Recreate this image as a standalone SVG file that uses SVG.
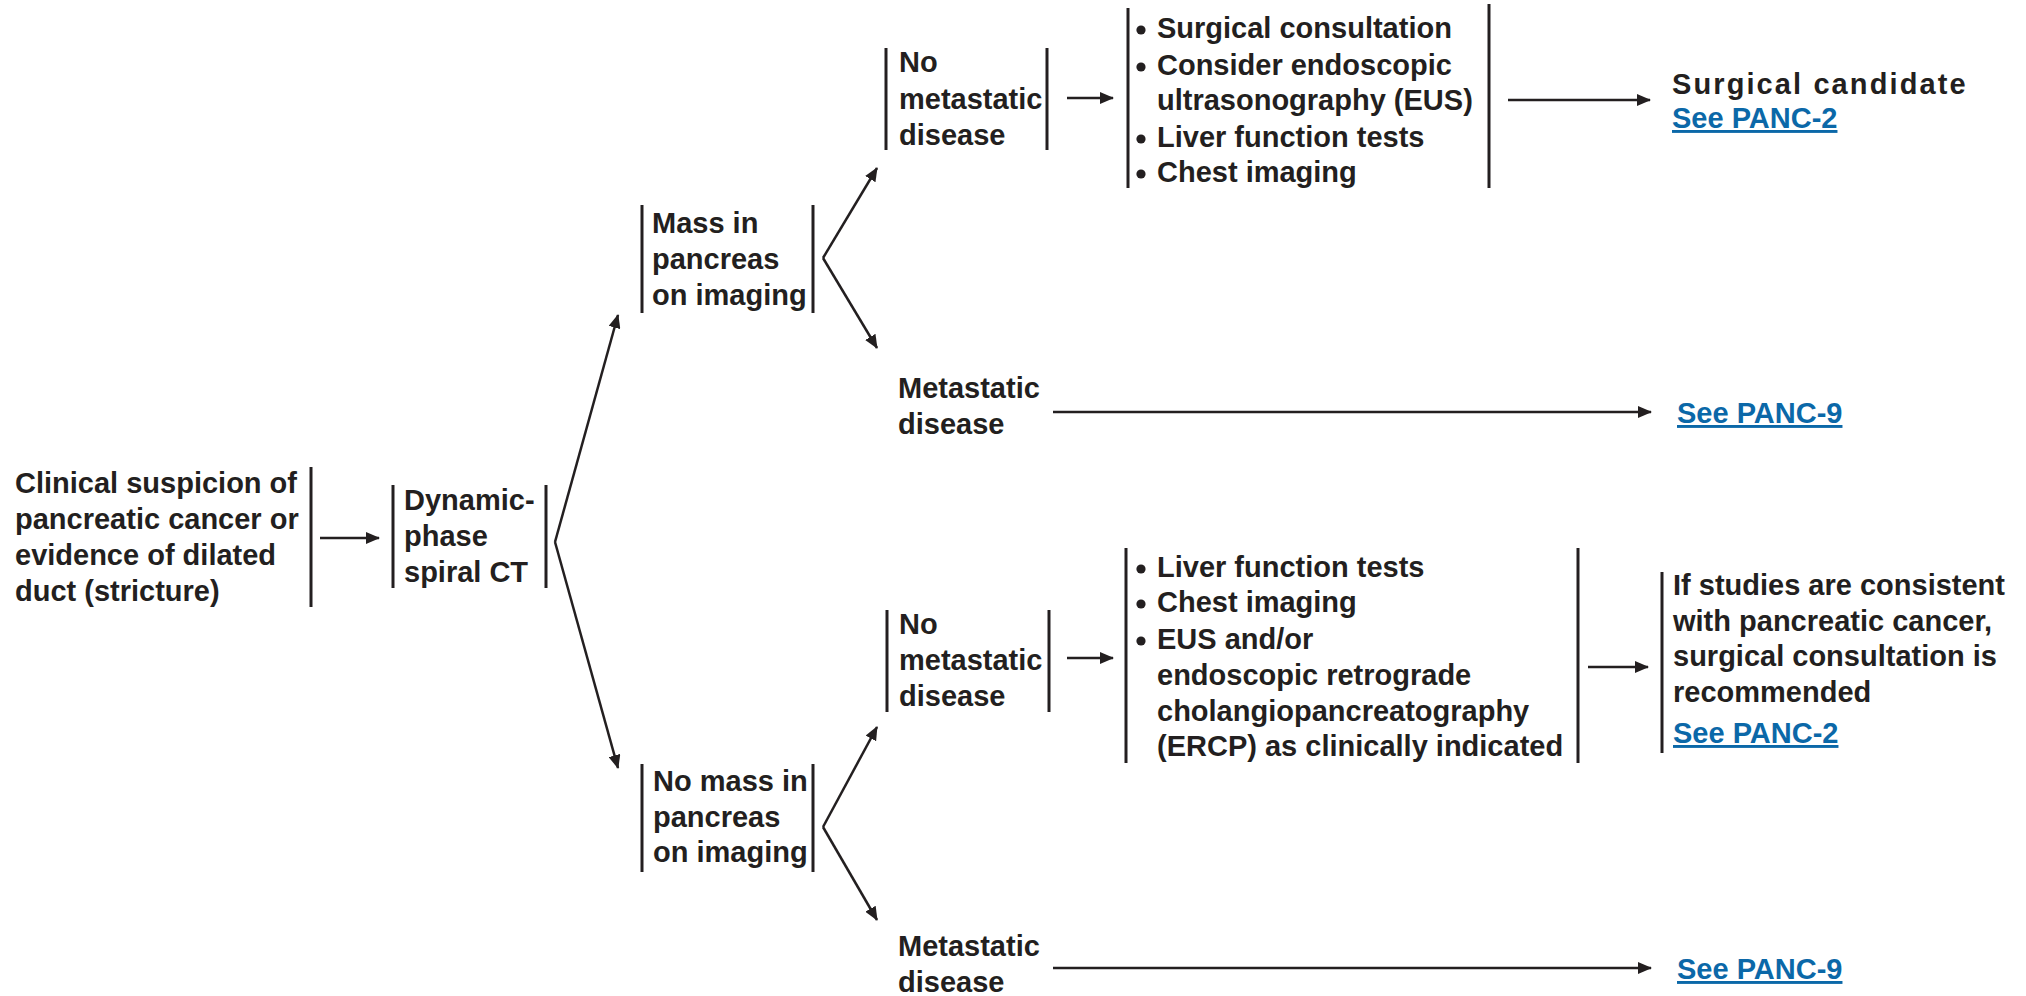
<svg xmlns="http://www.w3.org/2000/svg" width="2026" height="996" viewBox="0 0 2026 996">
  <style>
    .t { font-family: "Liberation Sans", Arial, Helvetica, sans-serif; font-size: 29px; font-weight: bold; fill: #231f20; }
    .lnk { font-family: "Liberation Sans", Arial, Helvetica, sans-serif; font-size: 29px; font-weight: bold; fill: #0b68a8; text-decoration: underline; }
    .bar { stroke: #231f20; stroke-width: 3; fill: none; }
    .edge { stroke: #231f20; stroke-width: 2.5; fill: none; }
    .dot { fill: #231f20; }
  </style>
  <defs>
    <marker id="arrow" viewBox="0 0 14 12" refX="13" refY="6" markerWidth="14" markerHeight="12" markerUnits="userSpaceOnUse" orient="auto">
      <path d="M0,0 L14,6 L0,12 z" fill="#231f20"/>
    </marker>
  </defs>
  <rect width="2026" height="996" fill="#ffffff"/>

  <!-- connectors -->
  <g id="connectors">
    <line class="edge" x1="320" y1="538" x2="379" y2="538" marker-end="url(#arrow)"/>
    <line class="edge" x1="555" y1="542" x2="618" y2="315" marker-end="url(#arrow)"/>
    <line class="edge" x1="555" y1="542" x2="618" y2="768" marker-end="url(#arrow)"/>
    <line class="edge" x1="823" y1="258" x2="877" y2="168" marker-end="url(#arrow)"/>
    <line class="edge" x1="823" y1="258" x2="877" y2="348" marker-end="url(#arrow)"/>
    <line class="edge" x1="823" y1="827" x2="877" y2="727" marker-end="url(#arrow)"/>
    <line class="edge" x1="823" y1="827" x2="877" y2="920" marker-end="url(#arrow)"/>
    <line class="edge" x1="1067" y1="98" x2="1113" y2="98" marker-end="url(#arrow)"/>
    <line class="edge" x1="1508" y1="100" x2="1650" y2="100" marker-end="url(#arrow)"/>
    <line class="edge" x1="1053" y1="412" x2="1651" y2="412" marker-end="url(#arrow)"/>
    <line class="edge" x1="1067" y1="658" x2="1113" y2="658" marker-end="url(#arrow)"/>
    <line class="edge" x1="1588" y1="667" x2="1648" y2="667" marker-end="url(#arrow)"/>
    <line class="edge" x1="1053" y1="968" x2="1651" y2="968" marker-end="url(#arrow)"/>
  </g>

  <!-- start: clinical suspicion -->
  <g id="n-suspicion">
    <text class="t"><tspan x="15" y="493">Clinical suspicion of</tspan><tspan x="15" y="529">pancreatic cancer or</tspan><tspan x="15" y="565">evidence of dilated</tspan><tspan x="15" y="601">duct (stricture)</tspan></text>
    <line class="bar" x1="311" y1="467" x2="311" y2="607"/>
  </g>

  <g id="n-ct">
    <line class="bar" x1="393" y1="485" x2="393" y2="588"/>
    <text class="t"><tspan x="404" y="510">Dynamic-</tspan><tspan x="404" y="546">phase</tspan><tspan x="404" y="582">spiral CT</tspan></text>
    <line class="bar" x1="546" y1="485" x2="546" y2="588"/>
  </g>

  <g id="n-mass">
    <line class="bar" x1="642" y1="205" x2="642" y2="313"/>
    <text class="t"><tspan x="652" y="233">Mass in</tspan><tspan x="652" y="269">pancreas</tspan><tspan x="652" y="305">on imaging</tspan></text>
    <line class="bar" x1="813" y1="205" x2="813" y2="313"/>
  </g>

  <g id="n-nomass">
    <line class="bar" x1="642" y1="764" x2="642" y2="872"/>
    <text class="t"><tspan x="653" y="791">No mass in</tspan><tspan x="653" y="827">pancreas</tspan><tspan x="653" y="862">on imaging</tspan></text>
    <line class="bar" x1="813" y1="764" x2="813" y2="872"/>
  </g>

  <!-- mass branch -->
  <g id="n-nomet-1">
    <line class="bar" x1="886" y1="48" x2="886" y2="150"/>
    <text class="t"><tspan x="899" y="72">No</tspan><tspan x="899" y="109">metastatic</tspan><tspan x="899" y="145">disease</tspan></text>
    <line class="bar" x1="1047" y1="48" x2="1047" y2="150"/>
  </g>

  <g id="n-workup-1">
    <line class="bar" x1="1128" y1="8" x2="1128" y2="188"/>
    <circle class="dot" cx="1141" cy="30" r="4.6"/>
    <circle class="dot" cx="1141" cy="67" r="4.6"/>
    <circle class="dot" cx="1141" cy="139" r="4.6"/>
    <circle class="dot" cx="1141" cy="174" r="4.6"/>
    <text class="t"><tspan x="1157" y="38">Surgical consultation</tspan><tspan x="1157" y="75">Consider endoscopic</tspan><tspan x="1157" y="110">ultrasonography (EUS)</tspan><tspan x="1157" y="147">Liver function tests</tspan><tspan x="1157" y="182">Chest imaging</tspan></text>
    <line class="bar" x1="1489" y1="4" x2="1489" y2="188"/>
  </g>

  <g id="n-candidate">
    <text class="t" x="1672" y="94" letter-spacing="2.1">Surgical candidate</text>
    <text class="lnk" x="1672" y="128">See PANC-2</text>
  </g>

  <g id="n-met-1">
    <text class="t"><tspan x="898" y="398">Metastatic</tspan><tspan x="898" y="434">disease</tspan></text>
  </g>
  <g id="n-panc9-1">
    <text class="lnk" x="1677" y="423">See PANC-9</text>
  </g>

  <!-- no-mass branch -->
  <g id="n-nomet-2">
    <line class="bar" x1="887" y1="610" x2="887" y2="712"/>
    <text class="t"><tspan x="899" y="634">No</tspan><tspan x="899" y="670">metastatic</tspan><tspan x="899" y="706">disease</tspan></text>
    <line class="bar" x1="1049" y1="610" x2="1049" y2="712"/>
  </g>

  <g id="n-workup-2">
    <line class="bar" x1="1126" y1="548" x2="1126" y2="763"/>
    <circle class="dot" cx="1141" cy="569" r="4.6"/>
    <circle class="dot" cx="1141" cy="604" r="4.6"/>
    <circle class="dot" cx="1141" cy="641" r="4.6"/>
    <text class="t"><tspan x="1157" y="577">Liver function tests</tspan><tspan x="1157" y="612">Chest imaging</tspan><tspan x="1157" y="649">EUS and/or</tspan><tspan x="1157" y="685">endoscopic retrograde</tspan><tspan x="1157" y="721">cholangiopancreatography</tspan><tspan x="1157" y="756">(ERCP) as clinically indicated</tspan></text>
    <line class="bar" x1="1578" y1="548" x2="1578" y2="763"/>
  </g>

  <g id="n-consult">
    <line class="bar" x1="1662" y1="572" x2="1662" y2="753"/>
    <text class="t"><tspan x="1673" y="595">If studies are consistent</tspan><tspan x="1673" y="631">with pancreatic cancer,</tspan><tspan x="1673" y="666">surgical consultation is</tspan><tspan x="1673" y="702">recommended</tspan></text>
    <text class="lnk" x="1673" y="743">See PANC-2</text>
  </g>

  <g id="n-met-2">
    <text class="t"><tspan x="898" y="956">Metastatic</tspan><tspan x="898" y="992">disease</tspan></text>
  </g>
  <g id="n-panc9-2">
    <text class="lnk" x="1677" y="979">See PANC-9</text>
  </g>
</svg>
